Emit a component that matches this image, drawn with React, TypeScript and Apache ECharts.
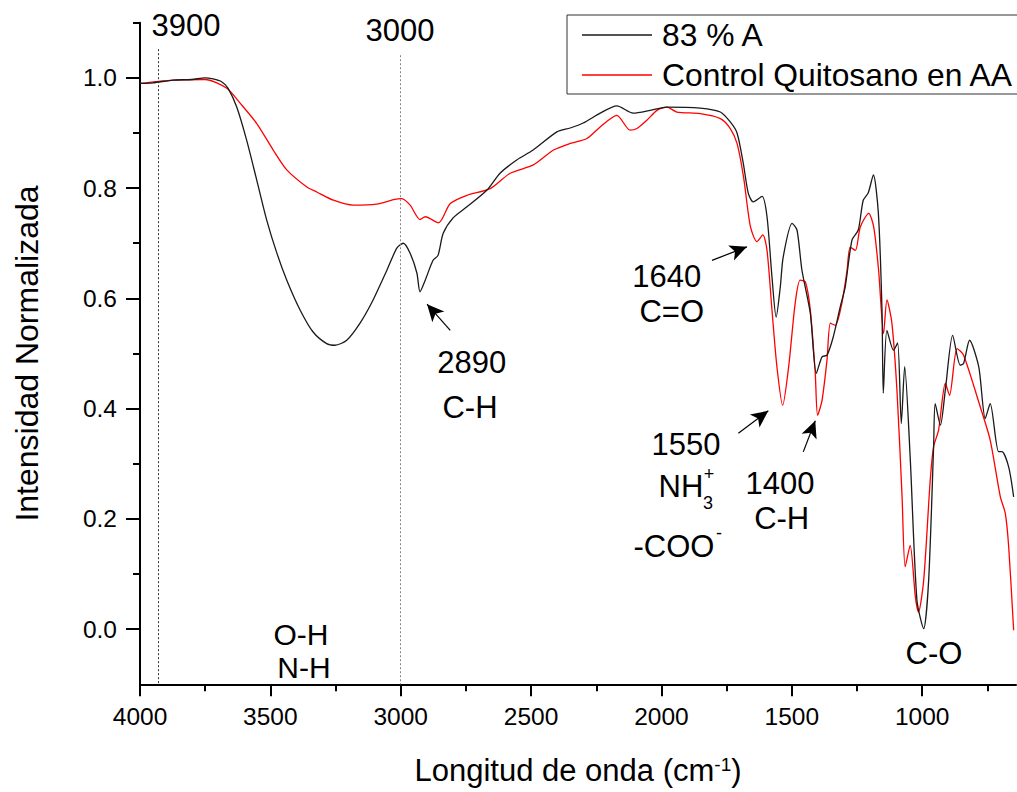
import React, { useEffect, useRef } from "react";
import * as echarts from "echarts";

// ---- data (wavenumber cm-1, normalized intensity) ----
const blackWavenumbers = [4000, 3950, 3873, 3800, 3751, 3720, 3687, 3662, 3629, 3591, 3552, 3514, 3475, 3437, 3386, 3336, 3284, 3252, 3207, 3156, 3106, 3053, 3015, 2990, 2964, 2938, 2926, 2906, 2876, 2857, 2837, 2799, 2746, 2670, 2619, 2555, 2492, 2401, 2350, 2300, 2235, 2171, 2108, 2043, 1979, 1851, 1774, 1736, 1710, 1686, 1667, 1648, 1614, 1595, 1576, 1560, 1544, 1533, 1499, 1480, 1461, 1429, 1406, 1384, 1365, 1341, 1314, 1295, 1269, 1245, 1226, 1207, 1187, 1168, 1154, 1149, 1135, 1110, 1094, 1080, 1067, 1046, 1020, 994, 975, 956, 950, 930, 911, 883, 854, 841, 818, 783, 758, 739, 707, 694, 668, 649];
const blackValues = [0.990, 0.991, 0.996, 0.997, 1.000, 0.998, 0.993, 0.981, 0.947, 0.887, 0.814, 0.742, 0.682, 0.633, 0.579, 0.539, 0.518, 0.515, 0.524, 0.555, 0.597, 0.651, 0.691, 0.700, 0.682, 0.646, 0.612, 0.633, 0.669, 0.678, 0.718, 0.746, 0.766, 0.796, 0.827, 0.851, 0.869, 0.902, 0.909, 0.918, 0.936, 0.949, 0.936, 0.941, 0.947, 0.945, 0.938, 0.920, 0.900, 0.845, 0.791, 0.775, 0.785, 0.748, 0.639, 0.566, 0.621, 0.675, 0.736, 0.724, 0.651, 0.573, 0.464, 0.494, 0.497, 0.530, 0.585, 0.621, 0.706, 0.724, 0.778, 0.791, 0.824, 0.755, 0.579, 0.428, 0.542, 0.506, 0.519, 0.373, 0.476, 0.313, 0.053, 0.001, 0.089, 0.331, 0.409, 0.370, 0.434, 0.533, 0.479, 0.482, 0.524, 0.476, 0.382, 0.409, 0.322, 0.322, 0.294, 0.240];

const redWavenumbers = [4000, 3873, 3751, 3667, 3616, 3552, 3489, 3437, 3360, 3322, 3258, 3182, 3092, 3028, 2996, 2964, 2926, 2906, 2855, 2810, 2746, 2657, 2580, 2491, 2414, 2350, 2286, 2235, 2171, 2120, 2094, 2056, 2017, 1979, 1941, 1851, 1774, 1736, 1710, 1685, 1659, 1634, 1611, 1595, 1576, 1557, 1535, 1512, 1487, 1468, 1448, 1429, 1410, 1401, 1384, 1365, 1352, 1333, 1308, 1288, 1276, 1256, 1237, 1205, 1186, 1167, 1148, 1135, 1116, 1096, 1077, 1065, 1046, 1026, 1014, 994, 969, 956, 937, 911, 895, 866, 841, 777, 739, 700, 681, 668, 649];
const redValues = [0.990, 0.996, 0.997, 0.981, 0.954, 0.917, 0.869, 0.833, 0.802, 0.793, 0.778, 0.769, 0.771, 0.779, 0.781, 0.769, 0.743, 0.748, 0.737, 0.772, 0.787, 0.799, 0.827, 0.842, 0.869, 0.881, 0.890, 0.911, 0.932, 0.905, 0.908, 0.923, 0.941, 0.947, 0.938, 0.935, 0.926, 0.908, 0.881, 0.820, 0.731, 0.703, 0.715, 0.687, 0.579, 0.476, 0.406, 0.476, 0.591, 0.633, 0.630, 0.579, 0.464, 0.388, 0.415, 0.488, 0.555, 0.551, 0.591, 0.651, 0.693, 0.687, 0.730, 0.754, 0.730, 0.651, 0.536, 0.597, 0.555, 0.428, 0.240, 0.113, 0.152, 0.059, 0.031, 0.089, 0.270, 0.331, 0.361, 0.446, 0.424, 0.509, 0.497, 0.403, 0.343, 0.240, 0.210, 0.149, -0.002];

const seriesNames = ["83 % A", "Control Quitosano en AA"];
const xMajorTicks = [1000, 1500, 2000, 2500, 3000, 3500, 4000];
const xMinorTicks = [750, 1250, 1750, 2250, 2750, 3250, 3750];
const yMajorTicks = [0, 0.2, 0.4, 0.6, 0.8, 1.0];
const yMinorTicks = [0.1, 0.3, 0.5, 0.7, 0.9, 1.1];

// reference lines (x value, top y value)
const refLines = [
  { x: 3931, top: 1.052, color: "#333" },
  { x: 3000, top: 1.041, color: "#888" },
];
// arrows [from, to] in data coords
const arrows = [
  [[2810, 0.542], [2899, 0.5895]],
  [[1806, 0.669], [1672, 0.6935]],
  [[1705, 0.3555], [1590, 0.396]],
  [[1456, 0.3216], [1410, 0.378]],
];

const FONT = "'Liberation Sans', Arial, Helvetica, sans-serif";

function txt(x: number, y: number, text: string, size = 31) {
  return {
    type: "text",
    x,
    y,
    silent: true,
    style: {
      text,
      fontSize: size,
      lineHeight: size,
      fontFamily: FONT,
      fill: "#000",
      align: "center",
      verticalAlign: "middle",
      textAlign: "center",
      textVerticalAlign: "middle",
    },
  };
}

export default function App() {
  const ref = useRef<HTMLDivElement>(null);
  useEffect(() => {
    if (!ref.current) return;
    const chart = echarts.init(ref.current, null, { renderer: "svg" });
    const blackData = blackWavenumbers.map((x, i) => [x, blackValues[i]]);
    const redData = redWavenumbers.map((x, i) => [x, redValues[i]]);
    const tickLine = { color: "#000", width: 2 };
    chart.setOption({
      animation: false,
      backgroundColor: "#fff",
      grid: { left: 140, right: 1, top: 22.7, bottom: 107.7, containLabel: false },
      legend: {
        data: seriesNames,
        orient: "vertical",
        left: 567,
        top: 15,
        padding: [4, 7, 3, 15],
        icon: "rect",
        itemWidth: 70,
        itemHeight: 1.5,
        itemGap: 8,
        borderColor: "#333",
        borderWidth: 1,
        selectedMode: false,
        textStyle: { fontSize: 31.8, lineHeight: 31, fontFamily: FONT, color: "#000", padding: [0, 0, 0, 5] },
      },
      xAxis: [
        {
          type: "value",
          position: "bottom",
          inverse: true,
          min: 640,
          max: 4000,
          splitLine: { show: false },
          name: "Longitud de onda (cm{sup|-1})",
          nameLocation: "middle",
          nameGap: 71,
          nameTextStyle: {
            fontSize: 31,
            fontFamily: FONT,
            color: "#000",
            lineHeight: 31,
            rich: { sup: { fontSize: 19, fontFamily: FONT, color: "#000", verticalAlign: "top", lineHeight: 19 } },
          },
          axisLine: { show: true, onZero: false, lineStyle: tickLine },
          axisTick: { show: true, inside: false, length: 12, customValues: xMajorTicks, lineStyle: tickLine },
          axisLabel: { show: true, customValues: xMajorTicks, margin: 20, fontSize: 24.5, fontFamily: FONT, color: "#000", formatter: (v: number) => String(v) },
        },
        {
          type: "value",
          position: "bottom",
          inverse: true,
          min: 640,
          max: 4000,
          splitLine: { show: false },
          axisLine: { show: false, onZero: false },
          axisTick: { show: true, inside: false, length: 7, customValues: xMinorTicks, lineStyle: tickLine },
          axisLabel: { show: false },
        },
      ],
      yAxis: [
        {
          type: "value",
          position: "left",
          min: -0.1,
          max: 1.1,
          splitLine: { show: false },
          name: "Intensidad Normalizada",
          nameLocation: "middle",
          nameGap: 97,
          nameRotate: 90,
          nameTextStyle: { fontSize: 32, fontFamily: FONT, color: "#000" },
          axisLine: { show: true, onZero: false, lineStyle: tickLine },
          axisTick: { show: true, inside: false, length: 14, customValues: yMajorTicks, lineStyle: tickLine },
          axisLabel: { show: true, customValues: yMajorTicks, margin: 23, fontSize: 24.5, fontFamily: FONT, color: "#000", formatter: (v: number) => v.toFixed(1) },
        },
        {
          type: "value",
          position: "left",
          offset: 0,
          min: -0.1,
          max: 1.1,
          splitLine: { show: false },
          axisLine: { show: false, onZero: false },
          axisTick: { show: true, inside: false, length: 7, customValues: yMinorTicks, lineStyle: tickLine },
          axisLabel: { show: false },
        },
      ],
      series: [
        {
          name: seriesNames[0],
          type: "line",
          data: blackData,
          symbol: "none",
          smooth: 0.25,
          lineStyle: { color: "#1a1a1a", width: 1.3 },
          itemStyle: { color: "#1a1a1a" },
          silent: true,
          z: 3,
        },
        {
          name: seriesNames[1],
          type: "line",
          data: redData,
          symbol: "none",
          smooth: 0.25,
          lineStyle: { color: "#ff0000", width: 1.3 },
          itemStyle: { color: "#ff0000" },
          silent: true,
          z: 2,
        },
        {
          name: "annotations",
          type: "line",
          data: [],
          silent: true,
          markLine: {
            silent: true,
            animation: false,
            symbol: ["none", "none"],
            label: { show: false },
            data: refLines.map((r) => [
              { coord: [r.x, r.top], lineStyle: { color: r.color, type: [2, 2], width: 1 } },
              { coord: [r.x, -0.1] },
            ]),
          },
        },
        {
          name: "arrows",
          type: "line",
          data: [],
          silent: true,
          markLine: {
            silent: true,
            animation: false,
            symbol: ["none", "arrow"],
            symbolSize: [12, 17],
            label: { show: false },
            lineStyle: { color: "#000", type: "solid", width: 1.2 },
            data: arrows.map((a) => [{ coord: a[0] }, { coord: a[1] }]),
          },
        },
      ],
      graphic: [
        txt(186, 25, "3900"),
        txt(400, 30, "3000"),
        txt(301, 634.5, "O-H", 30),
        txt(304, 667, "N-H", 30),
        txt(471.7, 362, "2890"),
        txt(470, 407, "C-H"),
        txt(666.7, 276, "1640"),
        txt(671.7, 311, "C=O"),
        txt(686, 444, "1550"),
        txt(681, 486, "NH"),
        txt(709, 474, "+", 18),
        txt(708, 503, "3", 18),
        txt(674, 546, "-COO"),
        txt(719, 533, "-", 18),
        txt(780, 483, "1400"),
        txt(781.7, 518, "C-H"),
        txt(934, 653, "C-O"),
      ],
    });
    return () => chart.dispose();
  }, []);
  return <div ref={ref} style={{ position: "absolute", left: 0, top: 0, width: 1017, height: 792 }} />;
}
